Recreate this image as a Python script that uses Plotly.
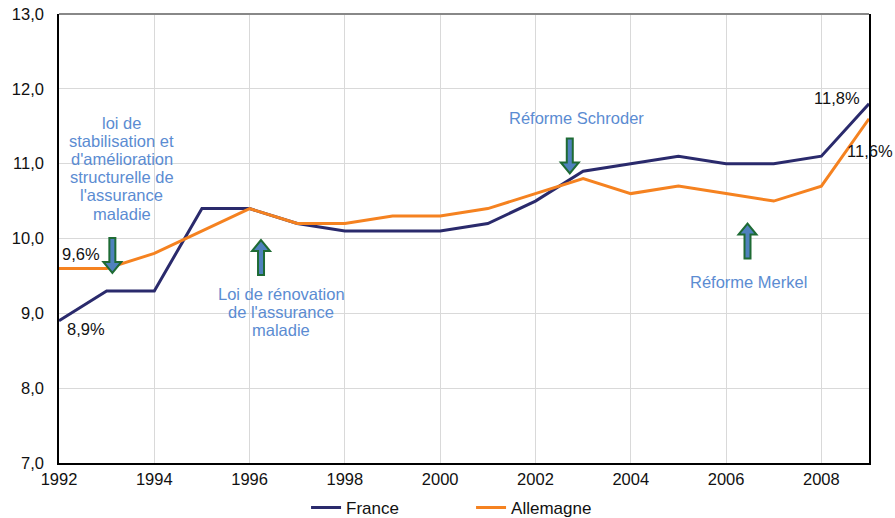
import plotly.graph_objects as go

years = list(range(1992, 2010))
france = [8.9, 9.3, 9.3, 10.4, 10.4, 10.2, 10.1, 10.1, 10.1, 10.2, 10.5, 10.9, 11.0, 11.1, 11.0, 11.0, 11.1, 11.8]
allemagne = [9.6, 9.6, 9.8, 10.1, 10.4, 10.2, 10.2, 10.3, 10.3, 10.4, 10.6, 10.8, 10.6, 10.7, 10.6, 10.5, 10.7, 11.6]

x_ticks = list(range(1992, 2009, 2))
y_ticks = [7, 8, 9, 10, 11, 12, 13]

# reform annotations: lines of text, x, y
reform_texts = [["loi de", "stabilisation et", "d'amélioration", "structurelle de", "l'assurance", "maladie"],
                ["Loi de rénovation", "de l'assurance", "maladie"],
                ["Réforme Schroder"],
                ["Réforme Merkel"]]
reform_x = [1993.32, 1996.66, 2002.87, 2006.48]
reform_y = [10.94, 9.02, 11.61, 9.42]

# arrows: x centre, tip y (data), direction
arrow_x = [1993.12, 1996.24, 2002.72, 2006.45]
arrow_tip = [9.54, 9.98, 10.87, 10.20]
arrow_dir = ["down", "up", "down", "up"]

FR_COL = "#2A2A6C"
DE_COL = "#F58220"
TXT_COL = "#5B8CD2"
FONT = "Arial, Liberation Sans, sans-serif"
LINE_H = 18.2

fig = go.Figure()
fig.add_trace(go.Scatter(x=years, y=france, mode="lines", name="France",
                         line=dict(color=FR_COL, width=3)))
fig.add_trace(go.Scatter(x=years, y=allemagne, mode="lines", name="Allemagne",
                         line=dict(color=DE_COL, width=3)))

annotations = []
for lines, x, y in zip(reform_texts, reform_x, reform_y):
    n = len(lines)
    for i, t in enumerate(lines):
        annotations.append(dict(x=x, y=y, xref="x", yref="y", text=t, showarrow=False,
                                yanchor="middle", xanchor="center",
                                yshift=-(i - (n - 1) / 2) * LINE_H,
                                font=dict(family=FONT, size=16.5, color=TXT_COL)))

# value labels
vals = [
    dict(x=years[0], y=allemagne[0], text="9,6%", xanchor="left", yanchor="middle", xshift=1, yshift=14),
    dict(x=years[0], y=france[0], text="8,9%", xanchor="left", yanchor="middle", xshift=6, yshift=-8),
    dict(x=years[-1], y=france[-1], text="11,8%", xanchor="right", yanchor="middle", xshift=-7, yshift=6),
    dict(x=years[-1], y=allemagne[-1], text="11,6%", xanchor="left", yanchor="middle", xshift=-24, yshift=-32),
]
for a in vals:
    a.update(xref="x", yref="y", showarrow=False, font=dict(family=FONT, size=16.5, color="#111111"))
annotations += vals

shapes = []
L, HH, HW, SW = 35, 11, 9, 3
for ax, tip, d in zip(arrow_x, arrow_tip, arrow_dir):
    s = 1 if d == "down" else -1
    pts = [(0, 0), (-HW, s * HH), (-SW, s * HH), (-SW, s * L), (SW, s * L), (SW, s * HH), (HW, s * HH)]
    path = "M " + " L ".join(f"{px},{py}" for px, py in pts) + " Z"
    shapes.append(dict(type="path", xref="x", yref="y", xsizemode="pixel", ysizemode="pixel",
                       xanchor=ax, yanchor=tip, path=path,
                       fillcolor="#4F81BD", line=dict(color="#1E6B34", width=2)))

# top border gray
shapes.append(dict(type="line", xref="paper", yref="paper", x0=0, x1=1, y0=1, y1=1,
                   line=dict(color="#888888", width=2)))

fig.update_layout(
    width=895, height=518,
    margin=dict(l=59, r=26, t=14, b=55, autoexpand=False),
    paper_bgcolor="white", plot_bgcolor="white",
    separators=", ",
    font=dict(family=FONT, size=16, color="#111111"),
    showlegend=True,
    legend=dict(orientation="h", x=0.305, xanchor="left", y=-0.06, yanchor="top",
                font=dict(family=FONT, size=17, color="#111111"),
                entrywidth=120, itemwidth=30),
    annotations=annotations,
    shapes=shapes,
)
fig.update_xaxes(range=[1992, 2009], tickvals=x_ticks, ticktext=[str(v) for v in x_ticks],
                 showgrid=True, gridcolor="#D9D9D9", gridwidth=1,
                 showline=True, linecolor="black", linewidth=1.5, mirror=False,
                 ticks="", zeroline=False, tickfont=dict(size=16.5, color="#111111"))
fig.update_yaxes(range=[7, 13], tickvals=y_ticks, tickformat=".1f",
                 showgrid=True, gridcolor="#D9D9D9", gridwidth=1,
                 showline=True, linecolor="black", linewidth=1.5, mirror=True,
                 ticks="", zeroline=False, ticklabelstandoff=10, ticklabeloverflow="allow",
                 tickfont=dict(size=16.5, color="#111111"))

fig.write_html("out.html", config={"displayModeBar": False},
               post_script="document.body.style.margin='0';")
